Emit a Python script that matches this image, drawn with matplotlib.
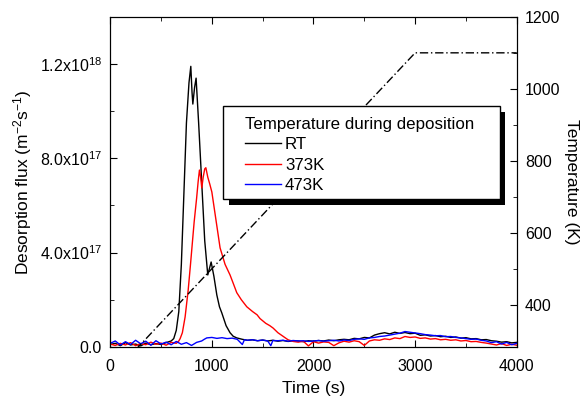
import matplotlib
matplotlib.use("Agg")
import matplotlib.pyplot as plt
from matplotlib.patches import Rectangle
from matplotlib.lines import Line2D

plt.rcParams['font.family'] = ['Liberation Sans', 'DejaVu Sans']
plt.rcParams['mathtext.fontset'] = 'custom'
plt.rcParams['mathtext.rm'] = 'Liberation Sans'
plt.rcParams['mathtext.it'] = 'Liberation Sans:italic'

# flux values in units of 1e16 m^-2 s^-1
rt_time = [0, 50, 100, 150, 200, 250, 300, 350, 400, 450, 500, 550, 600, 625, 650, 675,
           700, 725, 750, 775, 793, 805, 813, 830, 845, 870, 900, 930, 960, 975, 993,
           1020, 1049, 1075, 1098, 1140, 1179, 1210, 1245, 1300, 1350, 1400, 1450, 1500,
           1550, 1600, 1650, 1700, 1750, 1800, 1850, 1900, 1950, 2000, 2050, 2100, 2150,
           2200, 2250, 2300, 2350, 2400, 2450, 2500, 2550, 2600, 2650, 2700, 2750, 2800,
           2850, 2900, 2950, 3000, 3050, 3100, 3150, 3200, 3250, 3300, 3350, 3400, 3450,
           3500, 3550, 3600, 3650, 3700, 3750, 3800, 3850, 3900, 3950, 4000]
rt_flux = [1.0, 1.5, 0.5, 1.8, 0.8, 1.2, 0.4, 1.6, 0.9, 1.4, 1.0, 1.8, 2.5, 3.5, 7, 15,
           35, 65, 95, 112, 119, 108, 103, 110, 114, 95, 70, 45, 30.5, 33, 36,
           30, 22, 17, 14.4, 9, 6, 4.5, 3.8, 3.2, 2.8, 3.0, 2.6, 2.9,
           2.5, 2.8, 2.4, 2.7, 2.3, 2.6, 2.5, 2.2, 2.6, 2.4, 2.7, 2.5, 2.9,
           2.6, 3.0, 3.2, 3.0, 3.6, 3.4, 4.0, 3.8, 5.0, 5.6, 6.0, 5.5, 6.2,
           5.7, 6.1, 5.6, 5.8, 4.9, 5.1, 4.6, 4.8, 4.3, 4.5, 4.0, 4.2, 3.7,
           3.9, 3.4, 3.5, 3.0, 3.1, 2.6, 2.4, 2.0, 2.2, 1.7, 1.9]

k373_time = [0, 50, 100, 150, 200, 250, 300, 350, 400, 450, 500, 550, 600, 650, 675, 688,
             710, 737, 767, 790, 810, 826, 850, 865, 878, 890, 901, 915, 930, 941, 960,
             980, 1000, 1040, 1081, 1130, 1179, 1210, 1245, 1290, 1344, 1400, 1445, 1474,
             1530, 1570, 1602, 1650, 1700, 1750, 1800, 1850, 1900, 1950, 2000, 2050, 2100,
             2150, 2200, 2250, 2300, 2350, 2400, 2450, 2500, 2550, 2600, 2650, 2700, 2750,
             2800, 2850, 2900, 2950, 3000, 3050, 3100, 3150, 3200, 3250, 3300, 3350, 3400,
             3450, 3500, 3550, 3600, 3650, 3700, 3750, 3800, 3850, 3900, 3950, 4000]
k373_flux = [1.2, 0.6, 1.5, 0.8, 1.8, 0.5, 1.4, 0.9, 2.0, 1.1, 1.6, 0.7, 1.9, 1.5, 2.5, 3.5,
             6, 12.7, 24, 35, 45, 53, 63, 70, 75, 72, 67.4, 72, 75.5, 76, 72,
             69, 65.7, 54, 42, 35, 30.5, 27, 23, 20, 17, 15, 13.6, 12,
             10, 9, 8, 6, 4.5, 3.0, 2.3, 2.0, 2.4, 0.4, 2.2, 1.6, 2.1,
             1.9, 0.5, 1.7, 2.4, 2.0, 2.6, 2.2, 0.6, 2.5, 3.0, 2.8, 3.4, 3.1,
             3.8, 3.5, 4.4, 4.0, 4.2, 3.6, 3.8, 3.3, 3.5, 3.0, 3.2, 2.8, 3.0,
             2.5, 2.7, 2.2, 2.3, 1.9, 1.6, 1.2, 0.8, 1.4, 0.6, 1.1, 0.7]

k473_time = [0, 50, 100, 150, 200, 250, 300, 350, 400, 450, 500, 550, 600, 650, 700, 750,
             800, 850, 900, 925, 950, 1000, 1050, 1100, 1150, 1200, 1250, 1300, 1320, 1350,
             1400, 1450, 1500, 1550, 1580, 1600, 1650, 1700, 1750, 1800, 1850, 1900, 1950,
             2000, 2050, 2100, 2150, 2200, 2250, 2300, 2350, 2400, 2450, 2500, 2550, 2600,
             2650, 2700, 2750, 2800, 2850, 2900, 2950, 3000, 3050, 3100, 3150, 3200, 3250,
             3300, 3350, 3400, 3450, 3500, 3550, 3600, 3650, 3700, 3750, 3800, 3850, 3900,
             3950, 4000]
k473_flux = [1.5, 2.5, 0.8, 2.2, 1.0, 2.8, 1.3, 2.4, 0.7, 2.6, 1.2, 2.0, 0.9, 2.3, 1.1, 1.8,
             0.6, 1.9, 2.5, 3.2, 3.8, 4.0, 3.6, 3.9, 3.5, 3.7, 3.2, 1.0, 3.0, 2.8,
             3.0, 2.6, 2.9, 2.5, 0.5, 2.7, 2.6, 2.8, 2.4, 2.7, 2.5, 2.6, 2.3,
             2.5, 2.7, 2.4, 2.6, 2.8, 2.5, 2.9, 2.7, 3.2, 3.4, 3.2, 3.8, 4.0,
             4.4, 4.6, 5.0, 5.4, 5.8, 6.5, 6.2, 5.9, 5.6, 5.2, 5.0, 4.7, 4.8,
             4.3, 4.4, 4.0, 3.8, 3.5, 3.2, 3.3, 2.8, 2.5, 1.8, 2.2, 1.2, 1.9,
             0.9, 1.5]

ramp_time = [250, 3000, 4000]
ramp_temp = [275, 1100, 1100]

flux_ticks = [0, 4e17, 8e17, 1.2e18]
flux_labels = ['0.0', '4.0x10$^{17}$', '8.0x10$^{17}$', '1.2x10$^{18}$']
time_ticks = [0, 1000, 2000, 3000, 4000]
temp_ticks = [400, 600, 800, 1000, 1200]
legend_labels = ['RT', '373K', '473K']
legend_title = 'Temperature during deposition'

fig = plt.figure(figsize=(5.8, 4.01), dpi=100)
ax = fig.add_subplot(111)
fig.subplots_adjust(left=0.19, right=0.891, top=0.958, bottom=0.135)

scale = 1e16
ax.plot(rt_time, [v * scale for v in rt_flux], color='black', lw=1.0)
ax.plot(k373_time, [v * scale for v in k373_flux], color='red', lw=1.0)
ax.plot(k473_time, [v * scale for v in k473_flux], color='blue', lw=1.0)

ax.set_xlim(0, 4000)
ax.set_ylim(0, 1.4e18)
ax.set_xticks(time_ticks)
ax.set_xticks(range(500, 4000, 1000), minor=True)
ax.set_yticks(flux_ticks)
ax.set_yticklabels(flux_labels)
ax.set_yticks([2e17, 6e17, 1.0e18], minor=True)
ax.tick_params(which='both', direction='in', top=True, labelsize=11.5, pad=6)
ax.tick_params(axis='x', pad=9)
ax.tick_params(which='major', length=5)
ax.tick_params(which='minor', length=3)
ax.set_xlabel('Time (s)', fontsize=12.5, labelpad=5)
ax.set_ylabel('Desorption flux (m$^{-2}$s$^{-1}$)', fontsize=12.5, labelpad=4)

ax2 = ax.twinx()
ax2.plot(ramp_time, ramp_temp, color='black', lw=1.0, linestyle=(0, (6, 2, 1, 2)))
ax2.set_ylim(283, 1200)
ax2.set_yticks(temp_ticks)
ax2.set_yticks([500, 700, 900, 1100], minor=True)
ax2.tick_params(which='both', direction='in', labelsize=11.5, pad=6)
ax2.tick_params(which='major', length=5)
ax2.tick_params(which='minor', length=3)
ax2.set_ylabel('Temperature (K)', fontsize=12.5, rotation=270, labelpad=13)

# legend box with solid black shadow
bx, by, bw, bh = 0.278, 0.448, 0.680, 0.282
ax2.add_patch(Rectangle((bx + 0.014, by - 0.018), bw, bh, transform=ax2.transAxes,
                        facecolor='black', edgecolor='none', zorder=3.8))
ax2.add_patch(Rectangle((bx, by), bw, bh, transform=ax2.transAxes,
                        facecolor='white', edgecolor='black', lw=1.0, zorder=3.9))

handles = [Line2D([], [], color=c, lw=1.0) for c in ['black', 'red', 'blue']]
leg = ax2.legend(handles, legend_labels, title=legend_title, loc='upper left',
                 bbox_to_anchor=(0.332, 0.698), frameon=False, fontsize=12.2,
                 title_fontsize=12.2, alignment='left', borderpad=0, borderaxespad=0,
                 labelspacing=0.33, handlelength=2.1, handletextpad=0.25)
leg.set_zorder(5)

fig.savefig('out.png', dpi=100)
